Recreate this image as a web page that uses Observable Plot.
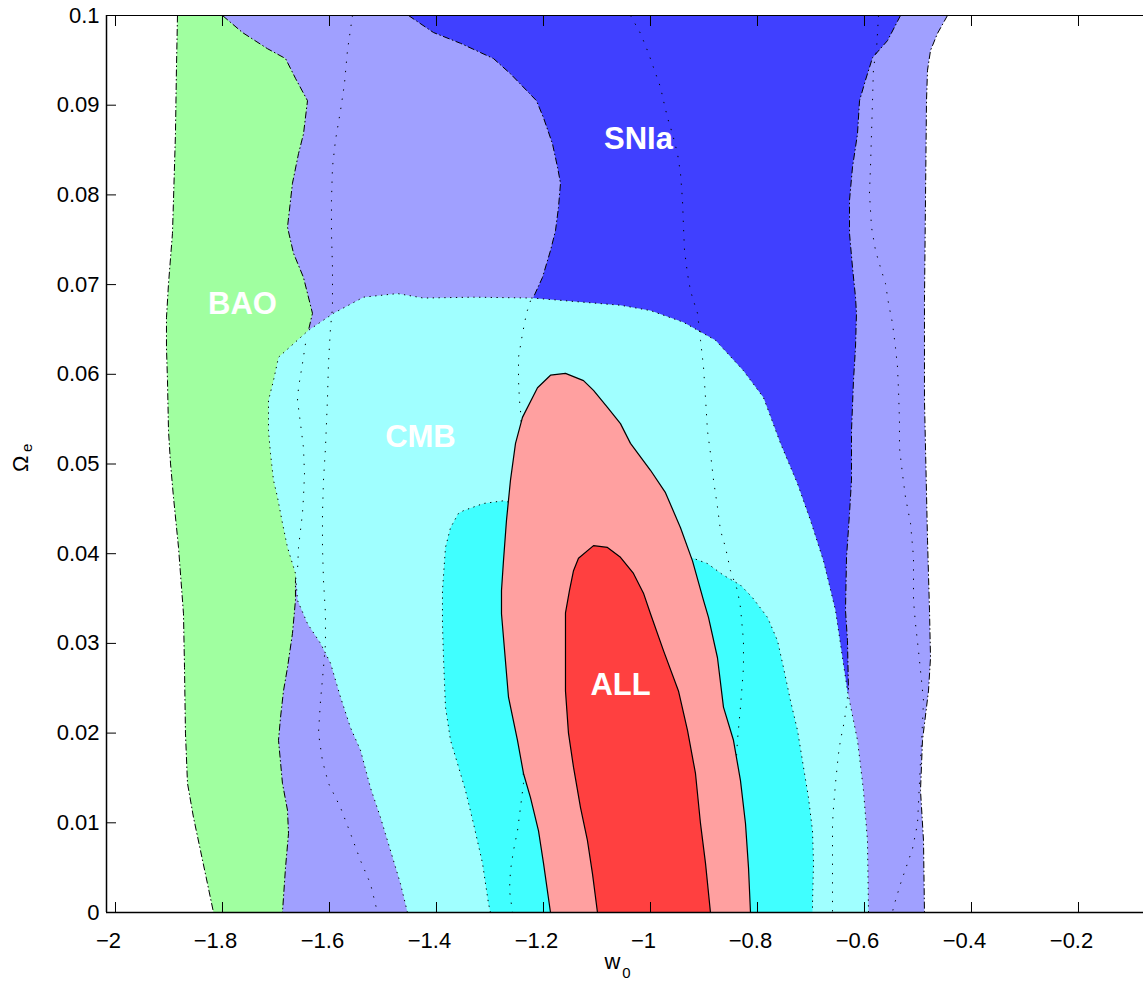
<!DOCTYPE html>
<html><head><meta charset="utf-8">
<script src="https://cdn.jsdelivr.net/npm/d3@7"></script>
<script src="https://cdn.jsdelivr.net/npm/@observablehq/plot@0.6"></script>
<style>html,body{margin:0;padding:0;background:#fff;} #chart svg{display:block;}</style>
</head><body><div id="chart"></div>
<script>
// ---- tick values ----
const xTicks = [-2, -1.8, -1.6, -1.4, -1.2, -1, -0.8, -0.6, -0.4, -0.2];
const yTicks = [0, 0.01, 0.02, 0.03, 0.04, 0.05, 0.06, 0.07, 0.08, 0.09, 0.1];

// ---- SNIa 2-sigma region (light violet) : [w0, Omega_e] ----
const snia2Left = [[-1.8505,0.1],[-1.8505,0.0125],[-1.8131,0]];
const snia2Right = [[-0.4449,0.1],[-0.4636,0.0980],[-0.4766,0.0961],[-0.4822,0.0939],[-0.4841,0.0905],[-0.4860,0.0794],[-0.4879,0.0682],[-0.4879,0.0571],[-0.4822,0.0415],[-0.4785,0.0337],[-0.4766,0.0284],[-0.4804,0.0247],[-0.4916,0.0192],[-0.4953,0.0136],[-0.4897,0.0080],[-0.4879,0]];

// ---- SNIa 1-sigma region (blue) ----
const snia1LeftTop = [[-1.4523,0.1],[-1.4056,0.0981],[-1.3551,0.0969],[-1.2935,0.0952],[-1.2617,0.0935],[-1.2131,0.0905],[-1.2,0.0886],[-1.1832,0.0857],[-1.1738,0.0831],[-1.1682,0.0813],[-1.1720,0.0786],[-1.1776,0.0760],[-1.1869,0.0738],[-1.2019,0.0708],[-1.2187,0.0686]];
const snia1LeftLow = [[-1.2243,0.0682],[-1.2318,0.0668],[-1.2393,0.0645],[-1.2467,0.0619],[-1.2467,0.0593],[-1.2449,0.0571],[-1.2430,0.0560],[-1.2393,0.0515],[-1.2430,0.0403],[-1.2430,0.0292],[-1.2393,0.0192],[-1.2374,0.0144],[-1.2430,0.0117],[-1.2486,0.0091],[-1.2561,0.0069],[-1.2617,0.0047],[-1.2636,0.0025],[-1.2579,0]];
const snia1RightTop = [[-0.5327,0.1],[-0.5570,0.0972],[-0.5850,0.0953],[-0.5981,0.0928],[-0.6093,0.0905],[-0.6131,0.0868],[-0.6224,0.0831],[-0.6280,0.0794],[-0.6280,0.0757],[-0.6224,0.0719],[-0.6168,0.0686],[-0.6150,0.0668],[-0.6168,0.0630],[-0.6206,0.0593],[-0.6243,0.0537],[-0.6243,0.0482],[-0.6280,0.0445],[-0.6336,0.0396],[-0.6355,0.0337],[-0.6318,0.0303],[-0.6299,0.0247]];
const snia1RightLow = [[-0.6318,0.0240],[-0.6374,0.0214],[-0.6449,0.0192],[-0.6486,0.0177],[-0.6505,0.0166],[-0.6542,0.0144],[-0.6579,0.0117],[-0.6598,0.0099],[-0.6598,0.0061],[-0.6598,0.0025],[-0.6598,0]];

// ---- BAO region (green) ----
const baoLeft = [[-1.8841,0.1],[-1.8860,0.0942],[-1.8879,0.0868],[-1.8916,0.0794],[-1.8935,0.0757],[-1.9009,0.0701],[-1.9047,0.0663],[-1.9047,0.0630],[-1.9028,0.0593],[-1.9009,0.0537],[-1.8972,0.0501],[-1.8916,0.0463],[-1.8822,0.0407],[-1.8729,0.0333],[-1.8710,0.0273],[-1.8692,0.0200],[-1.8654,0.0144],[-1.8542,0.0106],[-1.8411,0.0069],[-1.8280,0.0032],[-1.8168,0]];
const baoRightTop = [[-1.8,0.1],[-1.7626,0.0981],[-1.7159,0.0963],[-1.6822,0.0952],[-1.6636,0.0930],[-1.6411,0.0905],[-1.6486,0.0868],[-1.6579,0.0846],[-1.6692,0.0813],[-1.6785,0.0764],[-1.6673,0.0735],[-1.6486,0.0708],[-1.6318,0.0668],[-1.6393,0.0649]];
const baoRightMid = [[-1.6449,0.0634],[-1.6505,0.0612],[-1.6579,0.0585],[-1.6598,0.0571],[-1.6542,0.0545],[-1.6486,0.0518],[-1.6467,0.0489],[-1.6486,0.0463],[-1.6505,0.0445],[-1.6579,0.0407],[-1.6598,0.0381]];
const baoRightLow = [[-1.6636,0.0370],[-1.6636,0.0348],[-1.6692,0.0311],[-1.6785,0.0273],[-1.6860,0.0247],[-1.6916,0.0217],[-1.6953,0.0192],[-1.6879,0.0144],[-1.6785,0.0114],[-1.6766,0.0088],[-1.6822,0.0050],[-1.6879,0]];

// ---- CMB 2-sigma (light cyan) and 1-sigma (cyan) outlines ----
const cmb2 = [[-1.4542,0],[-1.4673,0.0032],[-1.4804,0.0058],[-1.5047,0.0106],[-1.5234,0.0139],[-1.5421,0.0181],[-1.5607,0.0206],[-1.5794,0.0240],[-1.5981,0.0278],[-1.6168,0.0300],[-1.6411,0.0322],[-1.6598,0.0348],[-1.6636,0.0378],[-1.6785,0.0407],[-1.6879,0.0434],[-1.6972,0.0463],[-1.7047,0.0482],[-1.7103,0.0512],[-1.7140,0.0537],[-1.7140,0.0571],[-1.7047,0.0593],[-1.6953,0.0619],[-1.6673,0.0634],[-1.6393,0.0649],[-1.5925,0.0668],[-1.5364,0.0686],[-1.4729,0.0690],[-1.4243,0.0685],[-1.3308,0.0686],[-1.2206,0.0685],[-1.0561,0.0677],[-1.0,0.0671],[-0.9383,0.0658],[-0.8785,0.0638],[-0.8262,0.0604],[-0.7888,0.0574],[-0.7570,0.0523],[-0.7252,0.0478],[-0.7009,0.0437],[-0.6766,0.0392],[-0.6542,0.0337],[-0.6505,0.0322],[-0.6318,0.0247],[-0.6131,0.0192],[-0.6019,0.0136],[-0.5944,0.0080],[-0.5925,0]];
const cmb1 = [[-1.2991,0],[-1.3028,0.0010],[-1.3140,0.0055],[-1.3308,0.0099],[-1.3458,0.0136],[-1.3607,0.0166],[-1.3738,0.0192],[-1.3832,0.0229],[-1.3869,0.0284],[-1.3888,0.0322],[-1.3888,0.0359],[-1.3832,0.0407],[-1.3738,0.0429],[-1.3589,0.0445],[-1.3495,0.0448],[-1.3121,0.0456],[-1.2748,0.0459],[-1.0935,0.0431],[-0.9252,0.0396],[-0.8935,0.0389],[-0.8636,0.0376],[-0.8318,0.0365],[-0.8093,0.0351],[-0.7813,0.0329],[-0.7626,0.0303],[-0.7514,0.0273],[-0.7383,0.0236],[-0.7252,0.0203],[-0.7140,0.0162],[-0.7047,0.0128],[-0.6972,0.0091],[-0.6953,0.0055],[-0.6972,0.0010],[-0.6972,0]];

// ---- ALL 2-sigma (pink) and 1-sigma (red) outlines ----
const all2 = [[-1.1869,0],[-1.2,0.0055],[-1.2093,0.0091],[-1.2243,0.0128],[-1.2374,0.0155],[-1.2486,0.0192],[-1.2654,0.0240],[-1.2785,0.0333],[-1.2785,0.0359],[-1.2748,0.0392],[-1.2692,0.0437],[-1.2617,0.0482],[-1.2523,0.0523],[-1.2393,0.0552],[-1.2112,0.0585],[-1.1869,0.0599],[-1.1589,0.0601],[-1.1252,0.0593],[-1.1065,0.0582],[-1.0804,0.0563],[-1.0561,0.0545],[-1.0374,0.0523],[-1.0,0.0493],[-0.9720,0.0468],[-0.9439,0.0429],[-0.9215,0.0392],[-0.9009,0.0348],[-0.8916,0.0329],[-0.8748,0.0284],[-0.8636,0.0229],[-0.8449,0.0192],[-0.8318,0.0147],[-0.8224,0.0099],[-0.8168,0.0050],[-0.8131,0]];
const all1 = [[-1.0991,0],[-1.1084,0.0043],[-1.1178,0.0080],[-1.1308,0.0117],[-1.1439,0.0162],[-1.1533,0.0200],[-1.1589,0.0247],[-1.1589,0.0334],[-1.1514,0.0359],[-1.1439,0.0381],[-1.1346,0.0395],[-1.1065,0.0409],[-1.0804,0.0407],[-1.0561,0.0396],[-1.0318,0.0378],[-1.0131,0.0356],[-1.0,0.0333],[-0.9757,0.0292],[-0.9477,0.0247],[-0.9308,0.0203],[-0.9159,0.0155],[-0.9065,0.0099],[-0.8972,0.0055],[-0.8879,0]];

// ---- extra dotted contour lines ----
const dotLeft = [[-1.5570,0.1],[-1.5664,0.0961],[-1.5720,0.0924],[-1.5794,0.0894],[-1.5888,0.0861],[-1.5944,0.0831],[-1.5963,0.0794],[-1.5963,0.0757],[-1.5944,0.0719],[-1.5944,0.0674],[-1.5981,0.0652],[-1.6019,0.0612],[-1.6037,0.0574],[-1.6075,0.0518],[-1.6112,0.0482],[-1.6131,0.0445],[-1.6131,0.0407],[-1.6112,0.0370],[-1.6075,0.0333],[-1.6075,0.0300],[-1.6112,0.0273],[-1.6168,0.0236],[-1.6206,0.0200],[-1.6131,0.0169],[-1.6019,0.0144],[-1.5794,0.0117],[-1.5607,0.0088],[-1.5421,0.0058],[-1.5234,0.0032],[-1.5103,0]];
const dotMid = [[-1.0374,0.1],[-1.0187,0.0980],[-1.0037,0.0958],[-0.9944,0.0942],[-0.9813,0.0920],[-0.9757,0.0905],[-0.9682,0.0886],[-0.9589,0.0868],[-0.9495,0.0846],[-0.9439,0.0824],[-0.9402,0.0794],[-0.9383,0.0764],[-0.9364,0.0738],[-0.9308,0.0712],[-0.9252,0.0693],[-0.9196,0.0682],[-0.9121,0.0668],[-0.9065,0.0638],[-0.9009,0.0608],[-0.8972,0.0574],[-0.8935,0.0537],[-0.8879,0.0512],[-0.8822,0.0482],[-0.8748,0.0452],[-0.8692,0.0426],[-0.8598,0.0407],[-0.8505,0.0381],[-0.8374,0.0359],[-0.8318,0.0340],[-0.8262,0.0303],[-0.8262,0.0273],[-0.8318,0.0229],[-0.8374,0.0192],[-0.8411,0.0155]];
const dotRight = [[-0.5738,0.1],[-0.5776,0.0961],[-0.5832,0.0942],[-0.5850,0.0905],[-0.5869,0.0868],[-0.5888,0.0831],[-0.5907,0.0802],[-0.5869,0.0764],[-0.5794,0.0738],[-0.5701,0.0719],[-0.5607,0.0701],[-0.5551,0.0679],[-0.5477,0.0657],[-0.5421,0.0630],[-0.5383,0.0608],[-0.5364,0.0582],[-0.5346,0.0548],[-0.5346,0.0518],[-0.5290,0.0489],[-0.5234,0.0463],[-0.5140,0.0434],[-0.5084,0.0396],[-0.5084,0.0348],[-0.5047,0.0322],[-0.4991,0.0292],[-0.4935,0.0259],[-0.4897,0.0236],[-0.4916,0.0211],[-0.4953,0.0169],[-0.5009,0.0099],[-0.5103,0.0071],[-0.5327,0.0032],[-0.5458,0.0006],[-0.5477,0]];

// ---- region labels ----
const labelNames = ["BAO", "SNIa", "CMB", "ALL"];
const labelX = [-1.7626, -1.0224, -1.430, -1.056];
const labelY = [0.0678, 0.0862, 0.0530, 0.0253];

// ---------------------------------------------------------------
const ring = (left, right) => [...left, ...right.slice().reverse()];
const DASHDOT = "7,2.5,1.5,2.5";
const DOTS = "1.3,8";
const CDOTS = "1.3,4.5";
const poly = (pts, fill, extra = {}) => Plot.line(pts, {fill, stroke: "none", ...extra});
const edge = (pts, dash) => Plot.line(pts, {stroke: "#000", strokeWidth: 1, strokeDasharray: dash, strokeLinecap: "butt"});
const fmt = d3.format("~g");

const X0 = -2.0168, X1 = -0.0785;

const chart = Plot.plot({
  width: 1143, height: 983,
  marginLeft: 106, marginRight: 0, marginTop: 15, marginBottom: 71,
  style: {fontFamily: "'Liberation Sans', Arial, Helvetica, sans-serif", background: "#fff", color: "#000"},
  x: {domain: [X0, X1]},
  y: {domain: [0, 0.1]},
  marks: [
    poly(ring(snia2Left, snia2Right), "#a0a0ff"),
    edge(snia2Right, DASHDOT),
    poly(ring([...snia1LeftTop, ...snia1LeftLow], [...snia1RightTop, ...snia1RightLow]), "#4040ff"),
    edge(snia1LeftTop, DASHDOT),
    edge(snia1RightTop, DASHDOT),
    poly(ring(baoLeft, [...baoRightTop, ...baoRightMid, ...baoRightLow]), "#a0ffa0"),
    edge(baoLeft, DASHDOT),
    edge([...baoRightTop, ...baoRightMid, ...baoRightLow], DASHDOT),
    poly(cmb2, "#a0ffff"),
    edge(cmb2, CDOTS),
    poly(cmb1, "#40ffff"),
    edge(cmb1, CDOTS),
    edge(dotLeft, DOTS),
    edge(dotMid, DOTS),
    edge(dotRight, DOTS),
    edge(baoRightMid, DOTS),
    edge(snia1LeftLow, DOTS),
    edge(snia1RightLow, DOTS),
    Plot.line(all2, {fill: "#ffa0a0", stroke: "#000", strokeWidth: 1.2}),
    Plot.line(all1, {fill: "#ff4040", stroke: "#000", strokeWidth: 1.2}),
    Plot.text(labelNames, {x: (d, i) => labelX[i], y: (d, i) => labelY[i], text: d => d, fill: "#fff", fontWeight: "bold", fontSize: 31}),
    // frame
    Plot.ruleY([0], {stroke: "#000", strokeWidth: 1.5}),
    Plot.ruleY([0.1], {stroke: "#000", strokeWidth: 1.2}),
    Plot.ruleX([X0], {stroke: "#000", strokeWidth: 1.5}),
    // ticks (inward) and labels
    Plot.axisX({ticks: xTicks, anchor: "bottom", tickSize: -10, fill: "none", label: null}),
    Plot.axisX({ticks: xTicks, anchor: "top", tickSize: -10, fill: "none", label: null}),
    Plot.axisY({ticks: yTicks, anchor: "left", tickSize: -10, fill: "none", label: null}),
    Plot.axisX({ticks: xTicks, anchor: "bottom", tickSize: 0, tickPadding: 20, tickFormat: fmt, label: null, fontSize: 22, dx: -7}),
    Plot.axisY({ticks: yTicks, anchor: "left", tickSize: 0, tickPadding: 7, tickFormat: fmt, label: null, fontSize: 22}),
    // axis titles
    Plot.text(["w"], {frameAnchor: "bottom", dx: -12.5, dy: 56, fontSize: 22}),
    Plot.text(["0"], {frameAnchor: "bottom", dx: 1.5, dy: 65, fontSize: 15}),
    Plot.text(["Ω"], {frameAnchor: "left", rotate: -90, dx: -86, dy: 8, fontSize: 22}),
    Plot.text(["e"], {frameAnchor: "left", rotate: -90, dx: -79, dy: -12, fontSize: 15})
  ]
});
document.getElementById("chart").append(chart);
</script>
</body></html>
